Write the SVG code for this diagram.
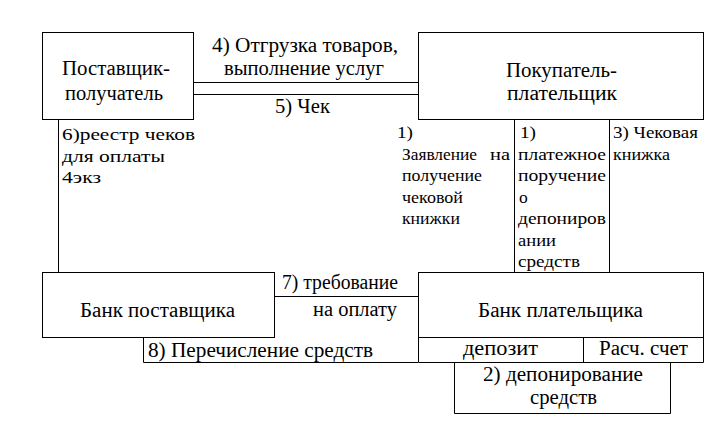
<svg xmlns="http://www.w3.org/2000/svg" width="727" height="431" viewBox="0 0 727 431">
<style>
.b{fill:none;stroke:#000;stroke-width:1}
text{font-family:"Liberation Serif","Times New Roman",serif;fill:#000}
.t{font-size:20px}
.s{font-size:17.5px}
</style>
<rect width="727" height="431" fill="#fff"/>
<g id="supplier">
<rect class="b" x="42.5" y="32.5" width="151" height="87"/>
<text class="t" x="62" y="75" textLength="108" lengthAdjust="spacingAndGlyphs">Поставщик-</text>
<text class="t" x="65" y="100" textLength="98" lengthAdjust="spacingAndGlyphs">получатель</text>
</g>
<g id="buyer">
<rect class="b" x="418.5" y="32.5" width="285" height="87"/>
<text class="t" x="506" y="77" textLength="111" lengthAdjust="spacingAndGlyphs">Покупатель-</text>
<text class="t" x="507" y="100" textLength="110" lengthAdjust="spacingAndGlyphs">плательщик</text>
</g>
<g id="docs">
<path class="b" d="M514.5 120V272M609.5 120V272"/>
<text class="s" x="397" y="138" textLength="16" lengthAdjust="spacingAndGlyphs">1)</text>
<text class="s" x="402" y="160" textLength="75" lengthAdjust="spacingAndGlyphs">Заявление</text>
<text class="s" x="490" y="160" textLength="20" lengthAdjust="spacingAndGlyphs">на</text>
<text class="s" x="402" y="181" textLength="80" lengthAdjust="spacingAndGlyphs">получение</text>
<text class="s" x="402" y="203" textLength="61" lengthAdjust="spacingAndGlyphs">чековой</text>
<text class="s" x="402" y="224" textLength="58" lengthAdjust="spacingAndGlyphs">книжки</text>
<text class="s" x="520" y="138" textLength="16" lengthAdjust="spacingAndGlyphs">1)</text>
<text class="s" x="518" y="160" textLength="88" lengthAdjust="spacingAndGlyphs">платежное</text>
<text class="s" x="518" y="181" textLength="88" lengthAdjust="spacingAndGlyphs">поручение</text>
<text class="s" x="519" y="203">о</text>
<text class="s" x="518" y="224" textLength="88" lengthAdjust="spacingAndGlyphs">депониров</text>
<text class="s" x="518" y="246" textLength="38" lengthAdjust="spacingAndGlyphs">ании</text>
<text class="s" x="518" y="267" textLength="62" lengthAdjust="spacingAndGlyphs">средств</text>
<text class="s" x="613" y="138" textLength="85" lengthAdjust="spacingAndGlyphs">3) Чековая</text>
<text class="s" x="613" y="160" textLength="57" lengthAdjust="spacingAndGlyphs">книжка</text>
</g>
<g id="supplier-bank">
<rect class="b" x="42.5" y="272.5" width="232" height="65"/>
<text class="t" x="80" y="317" textLength="155" lengthAdjust="spacingAndGlyphs">Банк поставщика</text>
</g>
<g id="payer-bank">
<rect class="b" x="418.5" y="272.5" width="285" height="65"/>
<text class="t" x="478" y="317" textLength="165" lengthAdjust="spacingAndGlyphs">Банк плательщика</text>
<path class="b" d="M418.5 337V362.5H703.5V337M583.5 337V362.5"/>
<text class="t" x="463" y="355" textLength="75" lengthAdjust="spacingAndGlyphs">депозит</text>
<text class="t" x="599" y="355" textLength="89" lengthAdjust="spacingAndGlyphs">Расч. счет</text>
</g>
<g id="deposit">
<path class="b" d="M454.5 362.5V413.5H670.5V362.5"/>
<text class="t" x="483" y="381" textLength="160" lengthAdjust="spacingAndGlyphs">2) депонирование</text>
<text class="t" x="530" y="404" textLength="67" lengthAdjust="spacingAndGlyphs">средств</text>
</g>
<g id="connectors">
<path class="b" d="M193 82.5H418M193 94.5H418"/>
<path class="b" d="M58.5 120V272"/>
<path class="b" d="M274 296.5H418"/>
<path class="b" d="M143.5 337V362.5H418"/>
</g>
<g id="labels">
<text class="t" x="212" y="52" textLength="186" lengthAdjust="spacingAndGlyphs">4) Отгрузка товаров,</text>
<text class="t" x="224" y="75" textLength="160" lengthAdjust="spacingAndGlyphs">выполнение услуг</text>
<text class="t" x="275" y="113" textLength="55" lengthAdjust="spacingAndGlyphs">5) Чек</text>
<text class="s" x="62" y="140" textLength="133" lengthAdjust="spacingAndGlyphs">6)реестр чеков</text>
<text class="s" x="62" y="162" textLength="103" lengthAdjust="spacingAndGlyphs">для оплаты</text>
<text class="s" x="62" y="183" textLength="39" lengthAdjust="spacingAndGlyphs">4экз</text>
<text class="t" x="282" y="289" textLength="116" lengthAdjust="spacingAndGlyphs">7) требование</text>
<text class="t" x="313" y="316" textLength="84" lengthAdjust="spacingAndGlyphs">на оплату</text>
<text class="t" x="148" y="357" textLength="225" lengthAdjust="spacingAndGlyphs">8) Перечисление средств</text>
</g>
</svg>
